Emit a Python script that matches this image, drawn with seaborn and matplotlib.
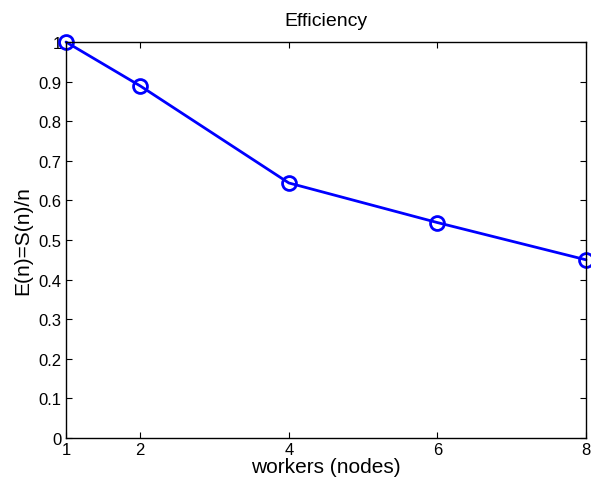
import matplotlib
matplotlib.use("Agg")
import matplotlib.pyplot as plt
import seaborn as sns
import pandas as pd

workers = [1, 2, 4, 6, 8]
efficiency = [1.0, 0.889, 0.644, 0.544, 0.45]
xticks = [1, 2, 4, 6, 8]
yticks = [0, 0.1, 0.2, 0.3, 0.4, 0.5, 0.6, 0.7, 0.8, 0.9, 1]

sns.set_style("white")
plt.rcParams['font.family'] = ['Liberation Sans', 'DejaVu Sans']
plt.rcParams['text.color'] = 'black'
plt.rcParams['axes.labelcolor'] = 'black'
plt.rcParams['xtick.color'] = 'black'
plt.rcParams['ytick.color'] = 'black'

df = pd.DataFrame({"workers": workers, "eff": efficiency})

fig = plt.figure(figsize=(5.91, 4.85), dpi=100)
ax = fig.add_axes([66/591, 1-439/485, (586-66)/591, (439-43)/485])
sns.lineplot(data=df, x="workers", y="eff", ax=ax, color=(0, 0, 1), linewidth=2,
             marker="o", markersize=10, markerfacecolor="none",
             markeredgecolor=(0, 0, 1), markeredgewidth=2)
for ln in ax.lines:
    ln.set_clip_on(False)
ax.set_xlim(1, 8)
ax.set_ylim(0, 1)
ax.set_xticks(xticks)
ax.set_xticklabels([str(t) for t in xticks])
ax.set_yticks(yticks)
ax.set_yticklabels(["0", "0.1", "0.2", "0.3", "0.4", "0.5", "0.6", "0.7", "0.8", "0.9", "1"])
ax.tick_params(direction="in", length=4, width=0.8, colors="black", labelsize=12,
               top=True, right=True, bottom=True, left=True, pad=3)
for s in ax.spines.values():
    s.set_color("black")
    s.set_linewidth(1)
    s.set_visible(True)
ax.set_xlabel("workers (nodes)", fontsize=15, labelpad=0, color="black")
ax.set_ylabel("E(n)=S(n)/n", fontsize=15, labelpad=5, color="black")
ax.set_title("Efficiency", fontsize=14, pad=12, color="black")
fig.savefig("out.png", dpi=100)
